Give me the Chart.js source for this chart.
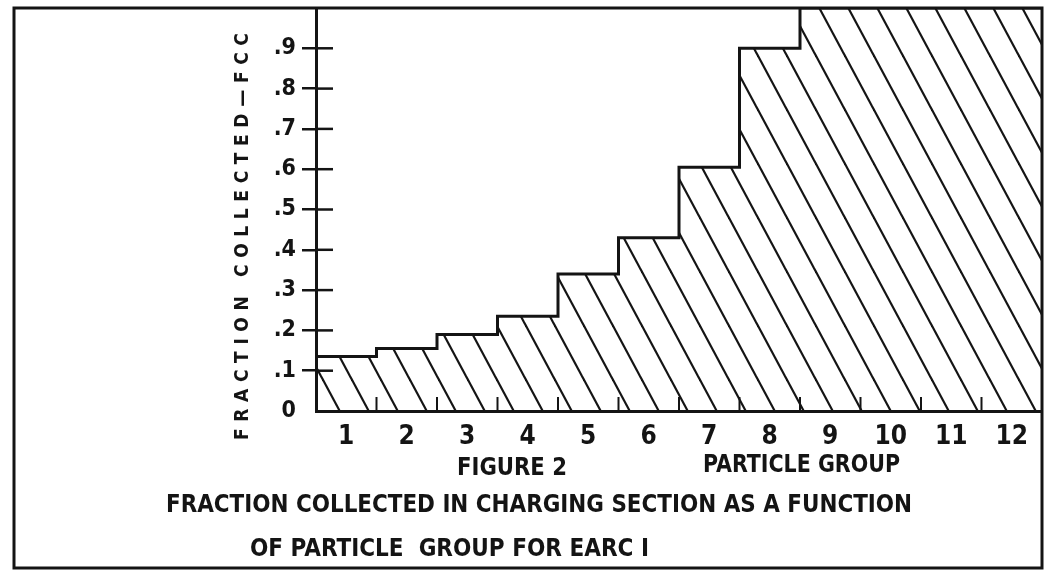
<!DOCTYPE html>
<html>
<head>
<meta charset="utf-8">
<title>Figure 2 - Fraction collected in charging section</title>
<script src="https://cdn.jsdelivr.net/npm/chart.js@4.4.1/dist/chart.umd.min.js"></script>
<style>
  html, body { margin: 0; padding: 0; background: #fff; }
  #wrap { width: 1047px; height: 573px; }
</style>
</head>
<body>
<div id="wrap"><canvas id="chartCanvas" width="1047" height="573"></canvas></div>
<script>
"use strict";

// data
const groups = [1, 2, 3, 4, 5, 6, 7, 8, 9, 10, 11, 12];
const fractionCollected = [0.135, 0.155, 0.19, 0.235, 0.34, 0.43, 0.605, 0.9, 1.0, 1.0, 1.0, 1.0];
const yTicks = [0, 0.1, 0.2, 0.3, 0.4, 0.5, 0.6, 0.7, 0.8, 0.9];

const yTitle = "FRACTION COLLECTED\u2014FCC";
const xTitle = "PARTICLE GROUP";
const figureLabel = "FIGURE 2";
const captionLines = [
  "FRACTION COLLECTED IN CHARGING SECTION AS A FUNCTION",
  "OF PARTICLE  GROUP FOR EARC I",
];

const INK = "#141414";
const FACE = '"DejaVu Sans Condensed", "Liberation Sans Narrow", "DejaVu Sans", sans-serif';

// each group holds its value from its left edge to its right edge
const stepPoints = groups.map((g, i) => ({ x: g - 0.5, y: fractionCollected[i] }));
stepPoints.push({ x: groups[groups.length - 1] + 0.5, y: fractionCollected[fractionCollected.length - 1] });

function makeHatch() {
  const w = 29, h = 54;
  const c = document.createElement("canvas");
  c.width = w;
  c.height = h;
  const g = c.getContext("2d");
  g.strokeStyle = INK;
  g.lineWidth = 2.2;
  for (const dx of [-w, 0, w]) {
    g.beginPath();
    g.moveTo(dx - w * 0.2, -h * 0.2);
    g.lineTo(dx + w * 1.2, h * 1.2);
    g.stroke();
  }
  const p = g.createPattern(c, "repeat");
  if (p.setTransform) p.setTransform(new DOMMatrix([1, 0, 0, 1, 3, 0]));
  return p;
}

function spacedText(ctx, text, x, y, length) {
  ctx.letterSpacing = "0px";
  const natural = ctx.measureText(text).width;
  if ("letterSpacing" in ctx) {
    ctx.letterSpacing = ((length - natural) / (text.length - 1)).toFixed(2) + "px";
    ctx.fillText(text, x, y);
    ctx.letterSpacing = "0px";
  } else {
    ctx.fillText(text, x, y, length);
  }
}

// keep the plot box exactly where the figure has it
function noEdgePadding(s) {
  s.paddingTop = 0;
  s.paddingBottom = 0;
  s.paddingLeft = 0;
  s.paddingRight = 0;
}

const decorations = {
  id: "decorations",
  afterDraw(chart) {
    const { ctx, chartArea: a, scales: { x, y } } = chart;
    ctx.save();
    ctx.strokeStyle = INK;
    ctx.fillStyle = INK;

    // outer frame
    ctx.lineWidth = 3;
    ctx.strokeRect(14, a.top, a.right - 14, 568 - a.top);

    // y ticks cross the axis
    ctx.lineWidth = 2.5;
    yTicks.forEach((v) => {
      if (v === 0) return;
      const py = y.getPixelForValue(v);
      ctx.beginPath();
      ctx.moveTo(a.left, py);
      ctx.lineTo(a.left + 17, py);
      ctx.stroke();
    });

    // small marks at group boundaries
    ctx.lineWidth = 2;
    groups.slice(0, -1).forEach((g) => {
      const px = x.getPixelForValue(g + 0.5);
      ctx.beginPath();
      ctx.moveTo(px, a.bottom);
      ctx.lineTo(px, a.bottom - 14);
      ctx.stroke();
    });

    // vertical axis title, widely spaced letters
    ctx.save();
    ctx.translate(243, 440);
    ctx.rotate(-Math.PI / 2);
    ctx.font = "bold 19px " + FACE;
    ctx.textAlign = "left";
    ctx.textBaseline = "middle";
    spacedText(ctx, yTitle, 0, 0, 407);
    ctx.restore();

    // captions below the axis
    ctx.textAlign = "left";
    ctx.textBaseline = "middle";
    ctx.font = "bold 24px " + FACE;
    ctx.fillText(figureLabel, 457, 469, 110);
    ctx.fillText(xTitle, 703, 466, 197);
    ctx.fillText(captionLines[0], 166, 506, 746);
    ctx.fillText(captionLines[1], 250, 550, 418);
    ctx.restore();
  },
};

const ctx = document.getElementById("chartCanvas").getContext("2d");

new Chart(ctx, {
  type: "line",
  data: {
    datasets: [
      {
        data: stepPoints,
        stepped: true,
        borderColor: INK,
        borderWidth: 3,
        backgroundColor: makeHatch(),
        fill: "origin",
        pointRadius: 0,
      },
    ],
  },
  options: {
    responsive: false,
    animation: false,
    layout: { padding: { left: 14, top: 8, right: 5, bottom: 0 } },
    plugins: {
      legend: { display: false },
      tooltip: { enabled: false },
    },
    scales: {
      x: {
        type: "linear",
        min: 0.5,
        max: 12.5,
        afterBuildTicks: (s) => {
          s.ticks = groups.map((g) => ({ value: g }));
        },
        afterFit: (s) => {
          s.height = 162;
          noEdgePadding(s);
        },
        grid: { display: false, drawTicks: false },
        border: { display: true, color: INK, width: 3 },
        ticks: {
          padding: 11,
          color: INK,
          maxRotation: 0,
          autoSkip: false,
          font: { family: FACE, size: 26, weight: "bold" },
          callback: (v) => String(v),
        },
      },
      y: {
        min: 0,
        max: 1,
        afterBuildTicks: (s) => {
          s.ticks = yTicks.map((v) => ({ value: v }));
        },
        afterFit: (s) => {
          s.width = 302;
          noEdgePadding(s);
        },
        grid: {
          drawOnChartArea: false,
          tickLength: 14,
          lineWidth: 2.5,
          color: (c) => (c.tick && c.tick.value === 0 ? "rgba(0,0,0,0)" : INK),
        },
        border: { color: INK, width: 3 },
        ticks: {
          padding: 6,
          color: INK,
          font: { family: FACE, size: 23, weight: "bold" },
          callback: (v) => (v === 0 ? "0" : "." + Math.round(v * 10)),
        },
      },
    },
  },
  plugins: [decorations],
});
</script>
</body>
</html>
